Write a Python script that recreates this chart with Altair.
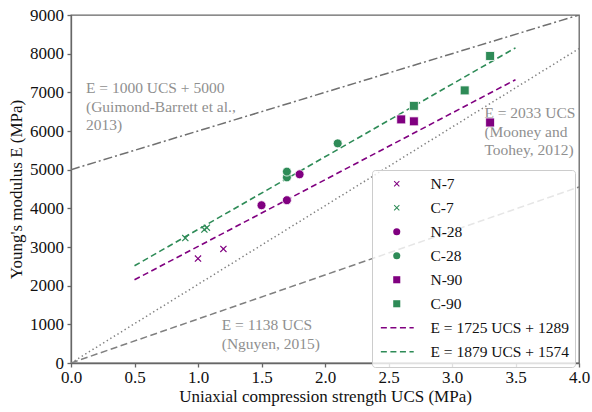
import altair as alt
import pandas as pd

# ---- data ----
series_names = ["N-7", "C-7", "N-28", "C-28", "N-90", "C-90"]
fit_names = ["E = 1725 UCS + 1289", "E = 1879 UCS + 1574"]

n7_x = [1.0, 1.2]
n7_y = [2700, 2950]
c7_x = [0.9, 1.05, 1.07]
c7_y = [3230, 3450, 3500]
n28_x = [1.5, 1.7, 1.8]
n28_y = [4080, 4210, 4880]
c28_x = [1.7, 1.7, 2.1]
c28_y = [4800, 4950, 5680]
n90_x = [2.6, 2.7, 3.3]
n90_y = [6300, 6250, 6220]
c90_x = [2.7, 3.1, 3.3]
c90_y = [6650, 7050, 7940]

fit_x = [0.5, 3.5]
fit_n_y = [2151.5, 7326.5]
fit_c_y = [2513.5, 8150.5]

ref_x = [0.0, 4.0]
guimond_y = [5000, 9000]
mooney_y = [0, 8132]
nguyen_y = [0, 4552]

ann_text = ["E = 1000 UCS + 5000\n(Guimond-Barrett et al.,\n2013)",
            "E = 2033 UCS\n(Mooney and\nToohey, 2012)",
            "E = 1138 UCS\n(Nguyen, 2015)"]
ann_x = [0.118, 3.255, 1.187]
ann_y = [6982, 6328, 853]

x_ticks = [0.0, 0.5, 1.0, 1.5, 2.0, 2.5, 3.0, 3.5, 4.0]
y_ticks = [0, 1000, 2000, 3000, 4000, 5000, 6000, 7000, 8000, 9000]

# ---- tables ----
rows = []
for name, xs, ys in zip(series_names,
                        [n7_x, c7_x, n28_x, c28_x, n90_x, c90_x],
                        [n7_y, c7_y, n28_y, c28_y, n90_y, c90_y]):
    for xv, yv in zip(xs, ys):
        rows.append({"series": name, "ucs": xv, "E": yv})
pts = pd.DataFrame(rows)

PURPLE = "#800080"
GREEN = "#2e8b57"

X_PATH = ("M-0.84,-0.64L-0.64,-0.84L0,-0.2L0.64,-0.84L0.84,-0.64L0.2,0"
          "L0.84,0.64L0.64,0.84L0,0.2L-0.64,0.84L-0.84,0.64L-0.2,0Z")
DASH_PATH = ("M-4.5,-0.22H-2.8V0.22H-4.5Z M-1.8,-0.22H-0.1V0.22H-1.8Z "
             "M0.9,-0.22H2.6V0.22H0.9Z M3.6,-0.22H4.8V0.22H3.6Z")

domain_all = series_names + fit_names
color_scale = alt.Scale(domain=domain_all,
                        range=[PURPLE, GREEN, PURPLE, GREEN, PURPLE, GREEN, PURPLE, GREEN])
shape_scale = alt.Scale(domain=domain_all,
                        range=[X_PATH, X_PATH, "circle", "circle", "square", "square",
                               DASH_PATH, DASH_PATH])

xs = alt.Scale(domain=[0, 4], nice=False)
ys = alt.Scale(domain=[0, 9000], nice=False)

x_enc = alt.X("ucs:Q", scale=xs,
              axis=alt.Axis(values=x_ticks, format=".1f", labelFlush=False,
                            title="Uniaxial compression strength UCS (MPa)"))
y_enc = alt.Y("E:Q", scale=ys,
              axis=alt.Axis(values=y_ticks, format="d", labelFlush=False,
                            title="Young's modulus E (MPa)"))

legend = alt.Legend(title=None, orient="none", legendX=301, legendY=155,
                    padding=6, symbolOffset=11, labelOffset=26, rowPadding=7,
                    labelFont="Liberation Serif", labelFontSize=15.5, labelColor="#111",
                    fillColor="rgba(255,255,255,0.8)", strokeColor="#cccccc",
                    cornerRadius=3, symbolSize=50, symbolStrokeWidth=0,
                    labelLimit=300)


def ref_line(yvals, color, dash, width=1.5):
    df = pd.DataFrame({"ucs": ref_x, "E": yvals})
    return alt.Chart(df).mark_line(color=color, strokeDash=dash, strokeWidth=width,
                                   clip=True).encode(x=x_enc, y=y_enc)


def fit_line(yvals, color):
    df = pd.DataFrame({"ucs": fit_x, "E": yvals})
    return alt.Chart(df).mark_line(color=color, strokeDash=[6, 3.5],
                                   strokeWidth=1.6).encode(x=x_enc, y=y_enc)


l_guimond = ref_line(guimond_y, "#707070", [9, 3, 2, 3])
l_mooney = ref_line(mooney_y, "#808080", [1.4, 2.8])
l_nguyen = ref_line(nguyen_y, "#808080", [7, 3.5])

l_fit_n = fit_line(fit_n_y, PURPLE)
l_fit_c = fit_line(fit_c_y, GREEN)

ann_df = pd.DataFrame({"ucs": ann_x, "E": ann_y, "label": ann_text})
annotations = alt.Chart(ann_df).mark_text(
    align="left", baseline="alphabetic", lineBreak="\n", lineHeight=18.5,
    font="Liberation Serif", fontSize=15.5, color="#8f8f8f"
).encode(x=x_enc, y=y_enc, text="label:N")

crosses = alt.Chart(pts).transform_filter(
    alt.FieldOneOfPredicate(field="series", oneOf=["N-7", "C-7"])
).mark_point(filled=True, opacity=1, size=70).encode(
    x=x_enc, y=y_enc,
    color=alt.Color("series:N", scale=color_scale, legend=legend),
    shape=alt.Shape("series:N", scale=shape_scale, legend=legend),
)

solids = alt.Chart(pts).transform_filter(
    alt.FieldOneOfPredicate(field="series", oneOf=["N-28", "C-28", "N-90", "C-90"])
).mark_point(filled=True, opacity=1, size=80, stroke="white", strokeWidth=0.8).encode(
    x=x_enc, y=y_enc,
    color=alt.Color("series:N", scale=color_scale, legend=legend),
    shape=alt.Shape("series:N", scale=shape_scale, legend=legend),
)

chart = alt.layer(
    l_guimond, l_mooney, l_nguyen, annotations, l_fit_n, l_fit_c, crosses, solids
).properties(
    width=508, height=348,
    autosize=alt.AutoSizeParams(type="none"),
    padding={"left": 71, "top": 15, "right": 13, "bottom": 49},
).configure_view(
    stroke="#666666", strokeWidth=1.3
).configure_axis(
    domainColor="#666666", domainWidth=1.3, tickColor="#666666", tickWidth=1.3,
    tickSize=4, grid=False,
    labelFont="Liberation Serif", labelFontSize=17, labelColor="#111111",
    titleFont="Liberation Serif", titleFontSize=17, titleFontWeight="normal",
    titleColor="#111111",
).configure_axisX(
    labelPadding=2, titlePadding=3
).configure_axisY(
    labelPadding=3.5, titlePadding=4
)

chart.save("out.html", embed_options={"renderer": "svg", "actions": False})
